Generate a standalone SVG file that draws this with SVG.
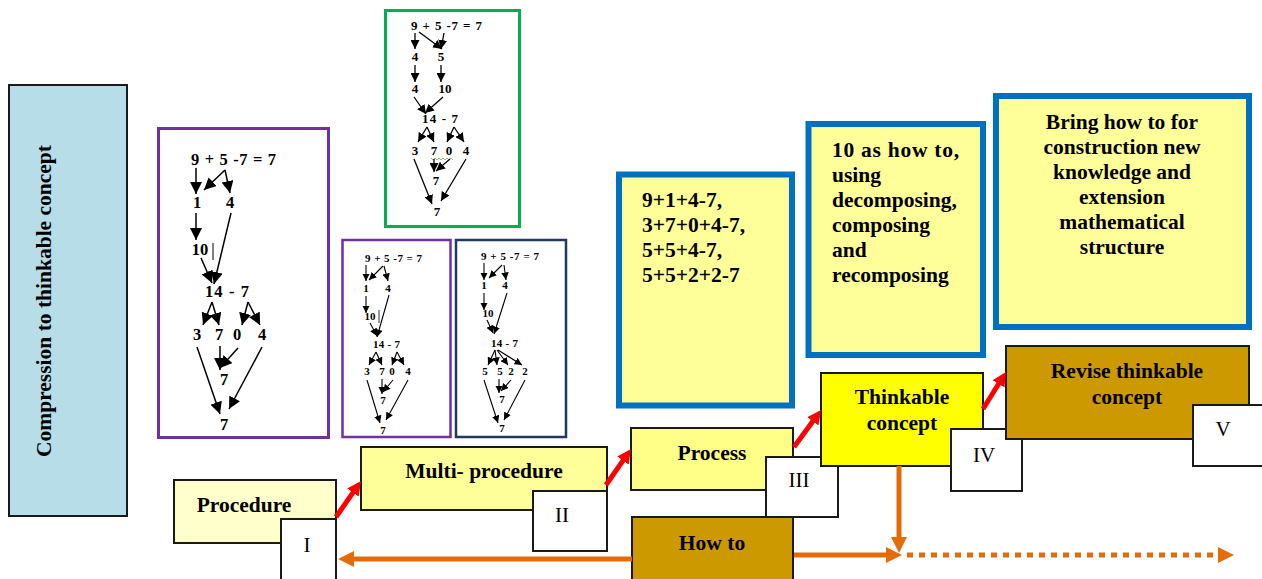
<svg xmlns="http://www.w3.org/2000/svg" width="1262" height="579" viewBox="0 0 1262 579">
<defs>
<style>
.t{font-family:"Liberation Serif","Times New Roman",serif;font-weight:bold;font-size:21.5px;fill:#000}
.c{text-anchor:middle}
.rn{font-family:"Liberation Serif","Times New Roman",serif;font-size:21px;fill:#000;text-anchor:middle}
.node{stroke:#1a1a1a;stroke-width:2}
.blue{fill:#ffff99;stroke:#0070c0;stroke-width:6}
.wb{fill:#fff;stroke:#1a1a1a;stroke-width:2}
.tr{font-family:"Liberation Serif","Times New Roman",serif;font-weight:bold;fill:#000;text-anchor:middle}
.trs{font-family:"Liberation Serif","Times New Roman",serif;font-weight:bold;fill:#000}
.red{stroke:#ff0000;stroke-width:5;fill:none;marker-end:url(#redH)}
.or{stroke:#e36c0a;stroke-width:5;fill:none;marker-end:url(#orH)}
.dot{stroke-dasharray:6 6}
.lb{stroke:#000;stroke-width:1.5;fill:none;marker-end:url(#tB)}
.lg{stroke:#000;stroke-width:1.3;fill:none;marker-end:url(#tG)}
.ls{stroke:#000;stroke-width:1.1;fill:none;marker-end:url(#tS)}
</style>
<marker id="redH" viewBox="0 0 10 10" refX="1" refY="5" markerWidth="14" markerHeight="14" markerUnits="userSpaceOnUse" orient="auto"><path d="M0,0 L10,5 L0,10 z" fill="#ff0000"/></marker>
<marker id="orH" viewBox="0 0 10 10" refX="1" refY="5" markerWidth="16" markerHeight="16" markerUnits="userSpaceOnUse" orient="auto"><path d="M0,0 L10,5 L0,10 z" fill="#e36c0a"/></marker>
<marker id="tB" viewBox="0 0 10 10" refX="10" refY="5" markerWidth="12" markerHeight="12" markerUnits="userSpaceOnUse" orient="auto"><path d="M0,0 L10,5 L0,10 z" fill="#000"/></marker>
<marker id="tG" viewBox="0 0 10 10" refX="10" refY="5" markerWidth="9" markerHeight="9" markerUnits="userSpaceOnUse" orient="auto"><path d="M0,0 L10,5 L0,10 z" fill="#000"/></marker>
<marker id="tS" viewBox="0 0 10 10" refX="10" refY="5" markerWidth="7.5" markerHeight="7.5" markerUnits="userSpaceOnUse" orient="auto"><path d="M0,0 L10,5 L0,10 z" fill="#000"/></marker>
</defs>
<rect width="1262" height="579" fill="#fff"/>

<g id="compression">
<rect x="9" y="85" width="118" height="431" fill="#b7dde8" stroke="#1a1a1a" stroke-width="2"/>
<text class="t c" transform="translate(51,301) rotate(-90)">Compression to thinkable concept</text>
</g>

<g id="tree-big">
<rect x="158.5" y="128.5" width="170" height="309" fill="#fff" stroke="#7030a0" stroke-width="3"/>
<g font-size="16.5">
<text class="trs" x="191" y="165" textLength="85" lengthAdjust="spacing">9 + 5 -7 = 7</text>
<text class="tr" x="197" y="208">1</text><text class="tr" x="230" y="208">4</text>
<text class="tr" x="200" y="255">10</text>
<text class="trs" x="205" y="297" textLength="44" lengthAdjust="spacing">14 - 7</text>
<text class="tr" x="197" y="340">3</text><text class="tr" x="219" y="340">7</text><text class="tr" x="237" y="340">0</text><text class="tr" x="262" y="340">4</text>
<text class="tr" x="224" y="385">7</text>
<text class="tr" x="224" y="430">7</text>
</g>
<line x1="213" y1="243" x2="213" y2="260" stroke="#000" stroke-width="1"/>
<path class="lb" d="M196,168 L196,194"/>
<path class="lb" d="M225,170 L204,190"/>
<path class="lb" d="M225,170 L230,193"/>
<path class="lb" d="M196,213 L196,240"/>
<path class="lb" d="M231,213 L214,284"/>
<path class="lb" d="M201,258 L212,283"/>
<path class="lb" d="M212,302 L203,325"/>
<path class="lb" d="M212,302 L219,325"/>
<path class="lb" d="M248,302 L242,325"/>
<path class="lb" d="M248,302 L260,325"/>
<path class="lb" d="M220,346 L220,370"/>
<path class="lb" d="M238,348 L220,368"/>
<path class="lb" d="M197,347 L220,414"/>
<path class="lb" d="M262,347 L229,409"/>
</g>

<g id="tree-green">
<rect x="385.5" y="10.5" width="134" height="216" fill="#fff" stroke="#00b050" stroke-width="3"/>
<g font-size="13">
<text class="trs" x="411" y="30" textLength="71" lengthAdjust="spacing">9 + 5 -7 = 7</text>
<text class="tr" x="415" y="61">4</text><text class="tr" x="441" y="61">5</text>
<text class="tr" x="415" y="93">4</text><text class="tr" x="445" y="93">10</text>
<text class="trs" x="422" y="123" textLength="36" lengthAdjust="spacing">14 - 7</text>
<text class="tr" x="415" y="155">3</text><text class="tr" x="434" y="155">7</text><text class="tr" x="449" y="155">0</text><text class="tr" x="466" y="155">4</text>
<text class="tr" x="436" y="185">7</text>
<text class="tr" x="437" y="216">7</text>
</g>
<polyline points="431,158 433,160 435,158 437,160 439,158 441,160 443,158 445,160 447,158 449,160 451,158 453,160" fill="none" stroke="#70ad47" stroke-width="0.8"/>
<path class="lg" d="M415,33 L415,49"/>
<path class="lg" d="M419,32 L442,49"/>
<path class="lg" d="M444,33 L441,49"/>
<path class="lg" d="M415,65 L415,82"/>
<path class="lg" d="M441,65 L441,82"/>
<path class="lg" d="M414,97 L426,114"/>
<path class="lg" d="M443,97 L425,113"/>
<path class="lg" d="M427,127 L418,142"/>
<path class="lg" d="M427,127 L434,142"/>
<path class="lg" d="M454,127 L447,142"/>
<path class="lg" d="M454,127 L464,142"/>
<path class="lg" d="M434,159 L434,172"/>
<path class="lg" d="M450,159 L436,171"/>
<path class="lg" d="M414,159 L432,204"/>
<path class="lg" d="M466,159 L441,201"/>
</g>

<g id="tree-small-purple">
<rect x="342.5" y="240" width="108" height="197" fill="#fff" stroke="#7030a0" stroke-width="2.5"/>
<g font-size="11">
<text class="trs" x="365" y="262" textLength="57" lengthAdjust="spacing">9 + 5 -7 = 7</text>
<text class="tr" x="366" y="292">1</text><text class="tr" x="388" y="292">4</text>
<text class="tr" x="370" y="320">10</text>
<text class="trs" x="373" y="348" textLength="27" lengthAdjust="spacing">14 - 7</text>
<text class="tr" x="367" y="375">3</text><text class="tr" x="382" y="375">7</text><text class="tr" x="392" y="375">0</text><text class="tr" x="408" y="375">4</text>
<text class="tr" x="383" y="404">7</text>
<text class="tr" x="383" y="434">7</text>
</g>
<line x1="379" y1="310" x2="379" y2="323" stroke="#000" stroke-width="0.8"/>
<path class="ls" d="M366,265 L366,281"/>
<path class="ls" d="M383,266 L369,280"/>
<path class="ls" d="M384,266 L388,281"/>
<path class="ls" d="M366,296 L366,313"/>
<path class="ls" d="M389,295 L377,337"/>
<path class="ls" d="M370,323 L377,336"/>
<path class="ls" d="M376,352 L369,365"/>
<path class="ls" d="M376,352 L382,365"/>
<path class="ls" d="M397,352 L392,365"/>
<path class="ls" d="M397,352 L404,365"/>
<path class="ls" d="M382,379 L382,394"/>
<path class="ls" d="M393,380 L383,392"/>
<path class="ls" d="M367,380 L380,423"/>
<path class="ls" d="M408,380 L386,420"/>
</g>

<g id="tree-navy">
<rect x="456" y="240" width="110" height="197" fill="#fff" stroke="#1f3864" stroke-width="2.5"/>
<g font-size="11">
<text class="trs" x="481" y="260" textLength="58" lengthAdjust="spacing">9 + 5 -7 = 7</text>
<text class="tr" x="484" y="289">1</text><text class="tr" x="505" y="289">4</text>
<text class="tr" x="488" y="317">10</text>
<text class="trs" x="491" y="347" textLength="27" lengthAdjust="spacing">14 - 7</text>
<text class="tr" x="485" y="375">5</text><text class="tr" x="500" y="375">5</text><text class="tr" x="511" y="375">2</text><text class="tr" x="525" y="375">2</text>
<text class="tr" x="502" y="403">7</text>
<text class="tr" x="502" y="432">7</text>
</g>
<path class="ls" d="M484,263 L484,280"/>
<path class="ls" d="M502,265 L489,278"/>
<path class="ls" d="M504,265 L506,280"/>
<path class="ls" d="M484,293 L484,310"/>
<path class="ls" d="M507,293 L494,334"/>
<path class="ls" d="M487,320 L493,333"/>
<path class="ls" d="M495,350 L488,365"/>
<path class="ls" d="M495,350 L497,365"/>
<path class="ls" d="M497,350 L508,365"/>
<path class="ls" d="M498,350 L522,365"/>
<path class="ls" d="M499,379 L499,393"/>
<path class="ls" d="M511,380 L501,391"/>
<path class="ls" d="M484,380 L498,423"/>
<path class="ls" d="M525,380 L504,420"/>
</g>

<g id="examples">
<rect class="blue" x="619" y="174.5" width="173" height="231"/>
<text class="t" x="642" y="207">9+1+4-7,</text>
<text class="t" x="642" y="232">3+7+0+4-7,</text>
<text class="t" x="642" y="257">5+5+4-7,</text>
<text class="t" x="642" y="282">5+5+2+2-7</text>
</g>

<g id="ten-as-how-to">
<rect class="blue" x="808.5" y="124" width="174.5" height="231"/>
<text class="t" x="832" y="157" textLength="127" lengthAdjust="spacing">10 as how to,</text>
<text class="t" x="832" y="182">using</text>
<text class="t" x="832" y="207">decomposing,</text>
<text class="t" x="832" y="232">composing</text>
<text class="t" x="832" y="257">and</text>
<text class="t" x="832" y="282">recomposing</text>
</g>

<g id="bring-how-to">
<rect class="blue" x="996" y="96" width="253" height="231"/>
<text class="t c" x="1122" y="129">Bring how to for</text>
<text class="t c" x="1122" y="154">construction new</text>
<text class="t c" x="1122" y="179">knowledge and</text>
<text class="t c" x="1122" y="204">extension</text>
<text class="t c" x="1122" y="229">mathematical</text>
<text class="t c" x="1122" y="254">structure</text>
</g>

<g id="procedure">
<rect class="node" x="174" y="480" width="162" height="63" fill="#ffffcc"/>
<text class="t c" x="244" y="512">Procedure</text>
<rect class="wb" x="281" y="519" width="55" height="70"/>
<text class="rn" x="307" y="552">I</text>
</g>

<g id="multi-procedure">
<rect class="node" x="361" y="447" width="246" height="63" fill="#ffff99"/>
<text class="t c" x="484" y="478">Multi- procedure</text>
<rect class="wb" x="533" y="491" width="74" height="60"/>
<text class="rn" x="562" y="522">II</text>
</g>

<g id="how-to">
<rect class="node" x="632" y="517" width="161" height="72" fill="#cc9900"/>
<text class="t c" x="712" y="550">How to</text>
</g>

<g id="process">
<rect class="node" x="631" y="428" width="162" height="62" fill="#ffff88"/>
<text class="t c" x="712" y="460">Process</text>
<rect class="wb" x="766" y="457" width="72" height="60"/>
<text class="rn" x="799" y="487">III</text>
</g>

<g id="thinkable-concept">
<rect class="node" x="821" y="373" width="162" height="93" fill="#ffff00"/>
<text class="t c" x="902" y="404">Thinkable</text>
<text class="t c" x="902" y="430">concept</text>
<rect class="wb" x="951" y="429" width="71" height="62"/>
<text class="rn" x="984" y="462">IV</text>
</g>

<g id="revise-thinkable-concept">
<rect class="node" x="1006" y="346" width="243" height="93" fill="#cc9900"/>
<text class="t c" x="1127" y="378">Revise thinkable</text>
<text class="t c" x="1127" y="404">concept</text>
<rect class="wb" x="1193" y="405" width="75" height="61"/>
<text class="rn" x="1223" y="436">V</text>
</g>

<g id="connectors">
<path class="red" d="M336,517 L353.8,491.4"/>
<path class="red" d="M606,485 L623.8,459.4"/>
<path class="red" d="M794,447 L813.6,420.2"/>
<path class="red" d="M983,409 L999.3,382.7"/>
<path class="or" d="M632,559 L352.4,559"/>
<path class="or" d="M899,466 L899,538.6"/>
<path class="or" d="M794,555 L887.6,555"/>
<path class="or dot" d="M907,555 L1219.6,555"/>
</g>
</svg>
